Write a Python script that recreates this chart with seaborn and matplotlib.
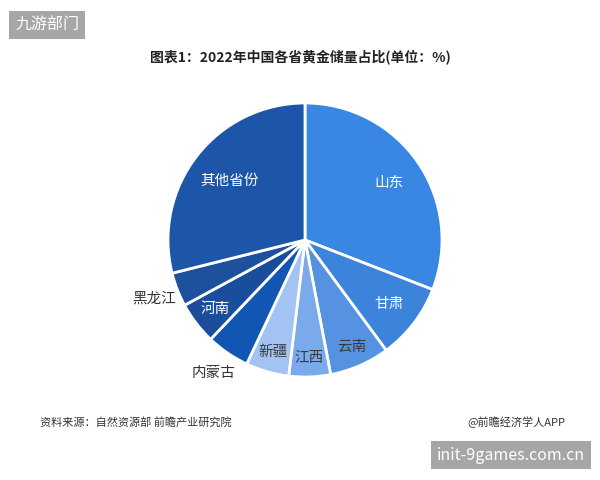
import numpy as np
import matplotlib
matplotlib.use('Agg')
import matplotlib.pyplot as plt
import seaborn as sns

sns.set_theme(style='white')
plt.rcParams['font.family'] = ['Noto Sans CJK SC', 'DejaVu Sans']

# 各省黄金储量占比(%)
provinces = ['山东', '甘肃', '云南', '江西', '新疆', '内蒙古', '河南', '黑龙江', '其他省份']
shares = [30.9, 9.0, 7.1, 4.9, 5.1, 5.1, 5.0, 4.0, 28.9]

colors = ['#3a87e3', '#3c83dc', '#5592e2', '#7aaaec', '#a3c4f2',
          '#1156b2', '#1a4e9c', '#1d519e', '#1d56a8']
label_colors = ['white', 'white', '#3a3a3a', '#3a3a3a', '#3a3a3a',
                '#333333', 'white', '#333333', 'white']
label_r = [0.74, 0.77, 0.85, 0.86, 0.85, 1.18, 0.83, 1.18, 0.70]

fig = plt.figure(figsize=(6, 4.8), dpi=100)
fig.patch.set_facecolor('white')

# 饼图区域：中心约(305,240)，半径约137像素
ax = fig.add_axes([168 / 600, 1 - 377 / 480, 274 / 600, 274 / 480])
wedges, _ = ax.pie(shares, colors=colors, startangle=90, counterclock=False,
                   radius=1, wedgeprops=dict(edgecolor='white', linewidth=2))
ax.set_xlim(-1, 1)
ax.set_ylim(-1, 1)
ax.set_aspect('equal')
ax.axis('off')

for w, name, c, r in zip(wedges, provinces, label_colors, label_r):
    ang = np.deg2rad((w.theta1 + w.theta2) / 2)
    ax.text(r * np.cos(ang), r * np.sin(ang), name, color=c,
            fontsize=10.5, ha='center', va='center', clip_on=False)

fig.text(0.5, 1 - 57 / 480, '图表1：2022年中国各省黄金储量占比(单位：%)',
         ha='center', va='center', fontsize=10, fontweight='bold', color='#222222')

fig.text(40 / 600, 1 - 422 / 480, '资料来源：自然资源部 前瞻产业研究院',
         ha='left', va='center', fontsize=8, color='#333333')
fig.text(565 / 600, 1 - 422 / 480, '@前瞻经济学人APP',
         ha='right', va='center', fontsize=8, color='#333333')

# 角标水印
fig.text(15 / 600, 1 - 25 / 480, '九游部门', ha='left', va='center',
         fontsize=11.5, color='white',
         bbox=dict(boxstyle='square,pad=0.35', fc='#a6a6a6', ec='none'))
fig.text(585 / 600, 1 - 455 / 480, 'init-9games.com.cn', ha='right', va='center',
         fontsize=11.5, color='white',
         bbox=dict(boxstyle='square,pad=0.35', fc='#a6a6a6', ec='none'))

fig.savefig('out.png', dpi=100, facecolor='white')
